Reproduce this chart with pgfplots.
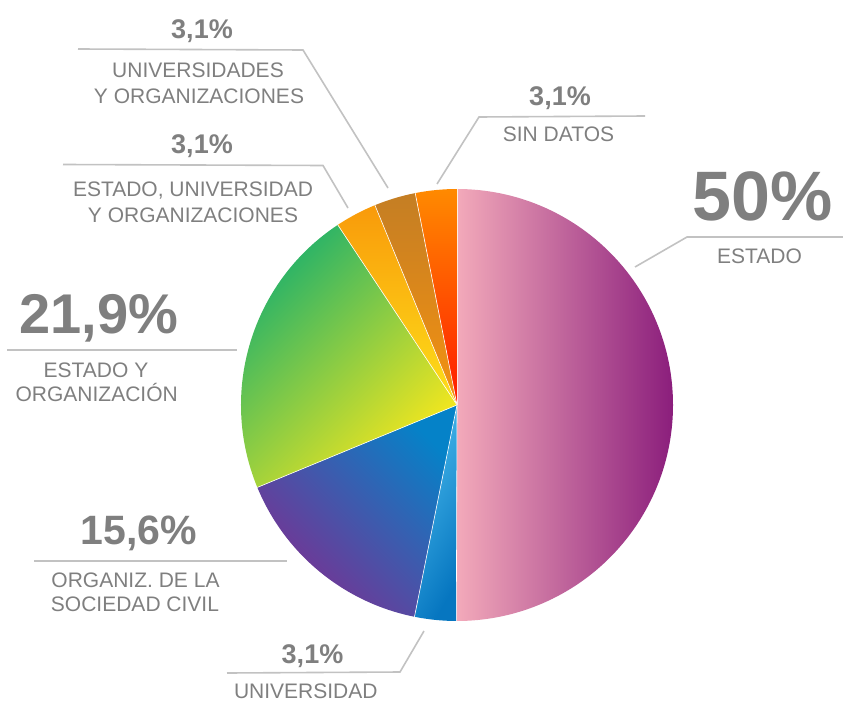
\documentclass[border=0pt]{standalone}
\usepackage{pgfplots}
\pgfplotsset{compat=1.18}
\usepackage{pgfplotstable}
\usepackage{fontspec}
\setmainfont{Liberation Sans}
\definecolor{txt}{HTML}{7F7F7F}
\definecolor{ln}{HTML}{C2C2C2}
\definecolor{estA}{HTML}{F3AABA}
\definecolor{estB}{HTML}{8B1E7C}
\definecolor{uniA}{HTML}{48B9EC}
\definecolor{uniB}{HTML}{0676C0}
\definecolor{socA}{HTML}{7C2F90}
\definecolor{socB}{HTML}{0582C8}
\definecolor{eoA}{HTML}{17AE6E}
\definecolor{eoB}{HTML}{F8E81C}
\definecolor{euoA}{HTML}{F99A0A}
\definecolor{euoB}{HTML}{FDE01A}
\definecolor{uoA}{HTML}{C47E24}
\definecolor{uoB}{HTML}{F59210}
\definecolor{sdA}{HTML}{FF8A00}
\definecolor{sdB}{HTML}{FF1A00}

\pgfplotstableread{
label value
Estado 50
Universidad 3.1
Sociedad 15.6
EstadoOrg 21.9
EstUnivOrg 3.1
UnivsOrg 3.1
SinDatos 3.1
}\piedata

\newcommand\getv[2]{\pgfplotstablegetelem{#1}{value}\of\piedata\global\let#2\pgfplotsretval}
\newcommand\lab[3]{\node[anchor=base, inner sep=0pt, text=txt, font=\fontsize{21bp}{25bp}\selectfont] at (axis cs:#1,#2) {#3};}
\newcommand\pct[4]{\node[anchor=base, inner sep=0pt, text=txt, font=\fontsize{#3}{#3}\selectfont\bfseries] at (axis cs:#1,#2) {#4};}
\newcommand\pieslice[3]{\shade[#3] (axis cs:457,405) -- ++(#1:216bp) arc[start angle=#1, end angle=#2, radius=216bp] -- cycle;
  \draw[white, line width=0.6bp] (axis cs:457,405) -- ++(#1:216bp);}

\begin{document}
\begin{tikzpicture}
\getv{0}{\vA}\getv{1}{\vB}\getv{2}{\vC}\getv{3}{\vD}\getv{4}{\vE}\getv{5}{\vF}\getv{6}{\vG}
\pgfmathsetmacro\tot{\vA+\vB+\vC+\vD+\vE+\vF+\vG}
\pgfmathsetmacro\aA{90}
\pgfmathsetmacro\aB{\aA-360*(\vA/\tot)}
\pgfmathsetmacro\aC{\aB-360*(\vB/\tot)}
\pgfmathsetmacro\aD{\aC-360*(\vC/\tot)}
\pgfmathsetmacro\aE{\aD-360*(\vD/\tot)}
\pgfmathsetmacro\aF{\aE-360*(\vE/\tot)}
\pgfmathsetmacro\aG{\aF-360*(\vF/\tot)}
\pgfmathsetmacro\aH{\aG-360*(\vG/\tot)}
\begin{axis}[scale only axis, width=843bp, height=702bp,
  xmin=0, xmax=843, ymin=0, ymax=702, y dir=reverse,
  hide axis, clip=false]
\pieslice{\aA}{\aB}{left color=estA, right color=estB}
\pieslice{\aB}{\aC}{top color=uniA, bottom color=uniB, shading angle=60}
\pieslice{\aC}{\aD}{top color=socB, bottom color=socA, shading angle=-45}
\pieslice{\aD}{\aE}{top color=eoA, bottom color=eoB, shading angle=45}
\pieslice{\aE}{\aF}{top color=euoA, bottom color=euoB}
\pieslice{\aF}{\aG}{top color=uoA, bottom color=uoB}
\pieslice{\aG}{\aH}{top color=sdA, bottom color=sdB}

\draw[ln, line width=1.6bp] (axis cs:78,49) -- (axis cs:303,50) -- (axis cs:388,188);
\draw[ln, line width=1.6bp] (axis cs:63,164.5) -- (axis cs:323,165.5) -- (axis cs:348,208);
\draw[ln, line width=1.6bp] (axis cs:437,184) -- (axis cs:479,117) -- (axis cs:645,116);
\draw[ln, line width=1.6bp] (axis cs:635,267) -- (axis cs:687,237) -- (axis cs:843,237);
\draw[ln, line width=1.6bp] (axis cs:7,350) -- (axis cs:237,350);
\draw[ln, line width=1.6bp] (axis cs:34,561) -- (axis cs:287,561);
\draw[ln, line width=1.6bp] (axis cs:424,631) -- (axis cs:400,672) -- (axis cs:227,673);

\pct{202}{39}{27bp}{3,1\%}
\lab{198}{77.3}{UNIVERSIDADES}
\lab{199}{103.3}{Y ORGANIZACIONES}
\pct{202}{154}{27bp}{3,1\%}
\lab{193}{196.7}{ESTADO, UNIVERSIDAD}
\lab{193}{222.7}{Y ORGANIZACIONES}
\pct{560}{106}{27bp}{3,1\%}
\lab{558.5}{141.7}{SIN DATOS}
\pct{762.7}{220.7}{70bp}{50\%}
\lab{759.5}{263.3}{ESTADO}
\pct{99}{333.3}{56bp}{21,9\%}
\lab{96}{377.3}{ESTADO Y}
\lab{96.7}{401.7}{ORGANIZACIÓN}
\pct{139}{544}{41bp}{15,6\%}
\lab{135.5}{587.3}{ORGANIZ. DE LA}
\lab{135}{611.7}{SOCIEDAD CIVIL}
\pct{312.5}{663.3}{27bp}{3,1\%}
\lab{305.8}{698.5}{UNIVERSIDAD}
\end{axis}
\pgfresetboundingbox
\path (0,0) rectangle (843bp,702bp);
\end{tikzpicture}
\end{document}
